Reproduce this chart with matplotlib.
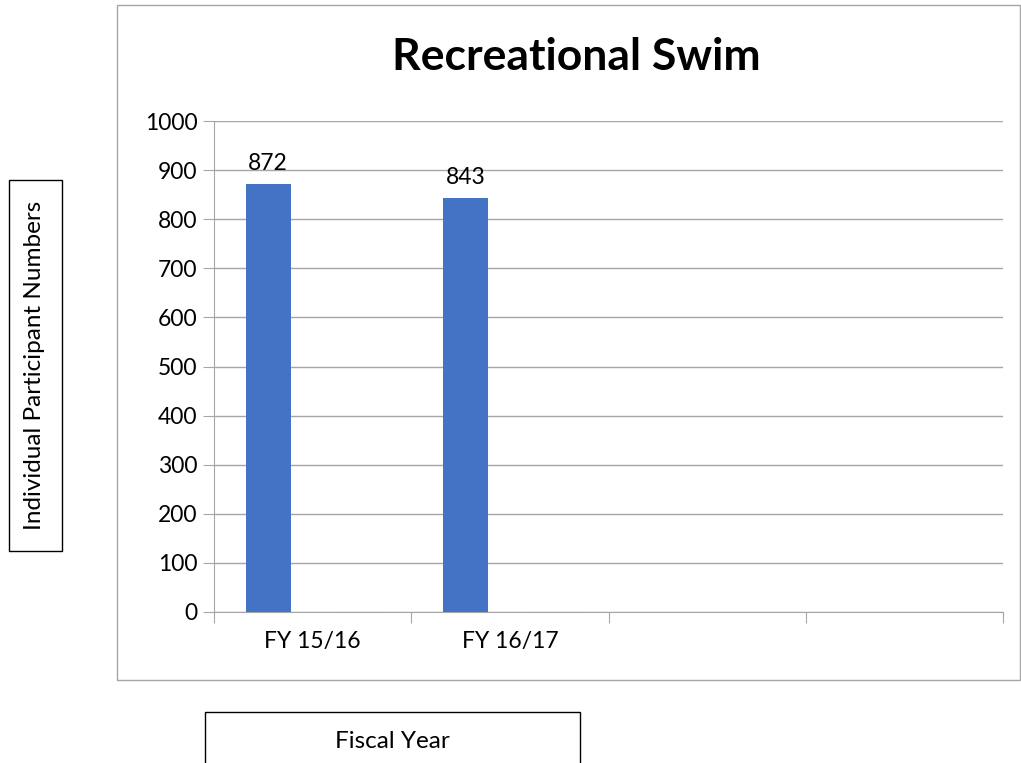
import numpy as np
import matplotlib.pyplot as plt
from matplotlib.patches import Rectangle

plt.rcParams['font.family'] = ['Lato', 'DejaVu Sans']

categories = ["FY 15/16", "FY 16/17", "", ""]
participants = [872, 843, 0, 0]
second_series = [0, 0, None, None]
yticks = [0, 100, 200, 300, 400, 500, 600, 700, 800, 900, 1000]

W, H = 1021, 763
fig = plt.figure(figsize=(W / 100, H / 100), dpi=100)

# outer chart area border
fig.patches.append(Rectangle((117 / W, 1 - 680 / H), (1020 - 117) / W, (680 - 5) / H,
                             transform=fig.transFigure, fill=False,
                             edgecolor="#a6a6a6", linewidth=1))

ax = fig.add_axes([214 / W, 1 - 612 / H, (1003 - 214) / W, (612 - 121) / H])

x = np.arange(len(categories))
bw = 0.228
vals = [v if v else 0 for v in participants]
bars = ax.bar(x[:2] - 0.225, vals[:2], bw, color="#4472c4", zorder=3)
zero_bars = ax.bar(x[:2] + 0.225, [v for v in second_series[:2]], bw,
                   color="#ed7d31", edgecolor="#c8c8c8", linewidth=0.8, zorder=3)

for b, v in zip(bars, participants[:2]):
    ax.text(b.get_x() + b.get_width() / 2, v + 20, str(v),
            ha="center", va="bottom", fontsize=16.5)

ax.set_xlim(-0.5, 3.5)
ax.set_ylim(0, 1000)
ax.set_yticks(yticks)
ax.set_yticklabels([str(t) for t in yticks], fontsize=16.5)
ax.yaxis.grid(True, color="#a6a6a6", linewidth=1, zorder=0)
ax.tick_params(axis="y", length=8, color="#a6a6a6", pad=4)

ax.set_xticks(np.arange(-0.5, 4.0, 1.0))
ax.set_xticklabels([])
ax.set_xticks(x, minor=True)
ax.set_xticklabels(categories, minor=True, fontsize=16.5)
ax.tick_params(axis="x", which="major", length=8, color="#a6a6a6")
ax.tick_params(axis="x", which="minor", length=0, pad=14)

for s in ["top", "right"]:
    ax.spines[s].set_visible(False)
ax.spines["left"].set_color("#a6a6a6")
ax.spines["bottom"].set_color("#a6a6a6")

fig.text(576 / W, 1 - 57 / H, "Recreational Swim", ha="center", va="center",
         fontsize=32, fontweight="bold")

# y-axis title box
fig.patches.append(Rectangle((9 / W, 1 - 551 / H), (62 - 9) / W, (551 - 180) / H,
                             transform=fig.transFigure, fill=False,
                             edgecolor="black", linewidth=1))
fig.text(35 / W, 1 - 365 / H, "Individual Participant Numbers", rotation=90,
         ha="center", va="center", fontsize=17.5)

# x-axis title box
fig.patches.append(Rectangle((205 / W, 1 - 770 / H), (580 - 205) / W, (770 - 712) / H,
                             transform=fig.transFigure, fill=False,
                             edgecolor="black", linewidth=1))
fig.text(392 / W, 1 - 741 / H, "Fiscal Year", ha="center", va="center", fontsize=17.5)

fig.savefig("out.png", dpi=100)
